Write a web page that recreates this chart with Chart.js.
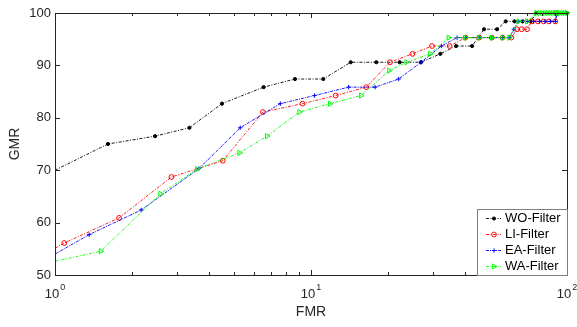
<!DOCTYPE html>
<html><head><meta charset="utf-8">
<script src="https://cdn.jsdelivr.net/npm/chart.js@4/dist/chart.umd.min.js"></script>
<style>html,body{margin:0;padding:0;background:#fff;}canvas{display:block;}</style>
</head><body>
<canvas id="c" width="577" height="327"></canvas>
<script>
// ---- data ----
const seriesNames = ["WO-Filter", "LI-Filter", "EA-Filter", "WA-Filter"];
const woX = [1, 1.61, 2.46, 3.35, 4.49, 6.53, 8.66, 11.17, 14.29, 17.99, 22.2, 26.9, 32.0, 36.9, 42.6, 47.4, 53.3, 57.6, 62.4, 67.1, 72, 76, 100];
const woY = [70, 75, 76.5, 78.1, 82.7, 85.85, 87.4, 87.4, 90.6, 90.6, 90.6, 90.6, 92.2, 93.7, 93.7, 96.9, 96.9, 98.4, 98.4, 98.4, 98.4, 100, 100];
const liX = [1, 1.087, 1.78, 2.85, 4.52, 6.49, 9.27, 12.48, 16.44, 20.34, 24.9, 29.7, 34.8, 40.1, 45.4, 50.9, 56.0, 60.6, 63.8, 66.5, 69.8, 73, 77, 81, 85, 90, 91];
const liY = [55.1, 56.1, 60.9, 68.7, 71.8, 81.1, 82.7, 84.25, 85.85, 90.6, 92.2, 93.7, 93.7, 95.3, 95.3, 95.3, 95.3, 95.3, 96.9, 96.9, 96.9, 98.4, 98.4, 98.4, 98.4, 98.4, 100];
const eaX = [1, 1.36, 2.17, 3.65, 5.29, 7.59, 10.33, 14.02, 17.8, 22.0, 26.9, 32.3, 37.2, 40.1, 45.4, 50.9, 56.0, 59.5, 62.0, 64.5, 70, 74, 78, 82, 86, 90, 91];
const eaY = [54.0, 57.7, 62.4, 70.3, 78.1, 82.7, 84.25, 85.85, 85.85, 87.4, 90.6, 93.7, 95.3, 95.3, 95.3, 95.3, 95.3, 95.3, 96.9, 98.4, 98.4, 98.4, 98.4, 98.4, 98.4, 98.4, 99.6];
const waX = [1, 1.51, 2.58, 3.59, 5.25, 6.73, 9.0, 11.86, 15.68, 20.2, 23.6, 29.2, 34.5, 40.1, 45.4, 50.9, 56.0, 59.5, 64.7, 69.8, 75.9, 78, 80, 82, 84, 86, 88, 90, 92, 94, 96, 98, 100];
const waY = [52.6, 54.55, 65.5, 70.2, 73.3, 76.5, 81.1, 82.7, 84.25, 89.0, 90.6, 92.2, 95.3, 95.3, 95.3, 95.3, 95.3, 95.3, 98.4, 98.4, 100, 100, 100, 100, 100, 100, 100, 100, 100, 100, 100, 100, 100];
const xMajorTicks = [1, 10, 100];
const xTickExp = ["0", "1", "2"];
const yTicks = [50, 60, 70, 80, 90, 100];
const xTitle = "FMR";
const yTitle = "GMR";

const toPts = (xs, ys) => xs.map((x, i) => ({x: x, y: ys[i]}));
const FONT = '"Liberation Sans", Arial, sans-serif';
const AX = '#262626';

function ds(label, xs, ys, color, style, radius, fill, dash, order, rot) {
  return {
    label: label, data: toPts(xs, ys), borderColor: color,
    backgroundColor: color, pointBorderColor: color,
    pointBackgroundColor: fill ? color : 'rgba(0,0,0,0)',
    pointStyle: style, pointRotation: rot || 0, legendRadius: radius,
    pointRadius: (c) => c.dataIndex === 0 ? 0 : radius,
    pointBorderWidth: 1, borderWidth: 0.9, borderDash: dash,
    tension: 0, fill: false, order: order,
    clip: {left: 0, top: 6, right: 6, bottom: 0}
  };
}

const datasets = [
  ds(seriesNames[0], woX, woY, '#000000', 'circle', 1.6, true, [3, 1.5, 1, 1.5], 3),
  ds(seriesNames[1], liX, liY, '#ff0000', 'circle', 2.4, false, [3, 1.5, 1, 1.5], 2),
  ds(seriesNames[2], eaX, eaY, '#0000ff', 'cross', 2.2, false, [3, 1, 1, 1], 1),
  ds(seriesNames[3], waX, waY, '#00ff00', 'triangle', 3, false, [3, 1.5, 1, 1.5], 0, 90)
];

const axesPlugin = {
  id: 'axesPlugin',
  afterDraw(chart) {
    const ctx = chart.ctx, a = chart.chartArea;
    const xs = chart.scales.x, ys = chart.scales.y;
    ctx.save();
    ctx.strokeStyle = AX; ctx.lineWidth = 1; ctx.setLineDash([]);
    ctx.strokeRect(Math.round(a.left) + 0.5, Math.round(a.top) + 0.5,
      Math.round(a.right - a.left), Math.round(a.bottom - a.top));
    const minors = [];
    for (let d = 1; d < 100; d *= 10) for (let k = 2; k <= 9; k++) minors.push(k * d);
    ctx.beginPath();
    const tickAt = (v, len) => {
      const px = Math.round(xs.getPixelForValue(v)) + 0.5;
      ctx.moveTo(px, a.bottom); ctx.lineTo(px, a.bottom - len);
      ctx.moveTo(px, a.top); ctx.lineTo(px, a.top + len);
    };
    minors.forEach(v => tickAt(v, 3));
    xMajorTicks.forEach(v => tickAt(v, 5));
    yTicks.forEach(v => {
      const py = Math.round(ys.getPixelForValue(v)) + 0.5;
      ctx.moveTo(a.left, py); ctx.lineTo(a.left + 5, py);
      ctx.moveTo(a.right, py); ctx.lineTo(a.right - 5, py);
    });
    ctx.stroke();
    ctx.fillStyle = AX;
    ctx.font = '13px ' + FONT;
    ctx.textAlign = 'right'; ctx.textBaseline = 'middle';
    yTicks.forEach(v => ctx.fillText(String(v), a.left - 4, ys.getPixelForValue(v)));
    xMajorTicks.forEach((v, i) => {
      const px = xs.getPixelForValue(v);
      ctx.font = '13px ' + FONT;
      const w1 = ctx.measureText('10').width;
      ctx.font = '9px ' + FONT;
      const w2 = ctx.measureText(xTickExp[i]).width;
      const x0 = px - (w1 + w2 + 1) / 2;
      ctx.textAlign = 'left'; ctx.textBaseline = 'alphabetic';
      ctx.font = '13px ' + FONT;
      ctx.fillText('10', x0, 298);
      ctx.font = '9px ' + FONT;
      ctx.fillText(xTickExp[i], x0 + w1 + 1, 290);
    });
    ctx.font = '14px ' + FONT;
    ctx.textAlign = 'center'; ctx.textBaseline = 'middle';
    ctx.fillText(xTitle, (a.left + a.right) / 2, 312);
    ctx.save();
    ctx.translate(15, (a.top + a.bottom) / 2);
    ctx.rotate(-Math.PI / 2);
    ctx.fillText(yTitle, 0, 0);
    ctx.restore();
    // legend
    const lx = 477, ly = 209, lw = Math.round(a.right) - lx, lh = Math.round(a.bottom) - ly;
    ctx.fillStyle = '#ffffff';
    ctx.fillRect(lx, ly, lw, lh);
    ctx.strokeStyle = '#7f7f7f';
    ctx.strokeRect(lx + 0.5, ly + 0.5, lw, lh);
    const rows = [218.5, 234.5, 250.5, 266.5];
    chart.data.datasets.forEach((d, i) => {
      const y = rows[i];
      ctx.strokeStyle = d.borderColor; ctx.lineWidth = 0.9;
      ctx.setLineDash(d.borderDash);
      ctx.beginPath(); ctx.moveTo(486, y); ctx.lineTo(501, y); ctx.stroke();
      ctx.setLineDash([]);
      ctx.fillStyle = d.pointBackgroundColor;
      ctx.strokeStyle = d.pointBorderColor;
      Chart.helpers.drawPoint(ctx, {pointStyle: d.pointStyle, radius: d.legendRadius, rotation: d.pointRotation, borderWidth: 1}, 494, y);
      ctx.fillStyle = '#000000';
      ctx.font = '13px ' + FONT;
      ctx.textAlign = 'left'; ctx.textBaseline = 'middle';
      ctx.fillText(d.label, 505, y);
    });
    ctx.restore();
  }
};

new Chart(document.getElementById('c'), {
  type: 'line',
  data: {datasets: datasets},
  options: {
    responsive: false, animation: false,
    layout: {padding: {left: 55, top: 13, right: 10, bottom: 52}},
    plugins: {legend: {display: false}, tooltip: {enabled: false}},
    scales: {
      x: {type: 'logarithmic', min: 1, max: 100, display: false},
      y: {type: 'linear', min: 50, max: 100, display: false}
    }
  },
  plugins: [axesPlugin]
});
</script>
</body></html>
